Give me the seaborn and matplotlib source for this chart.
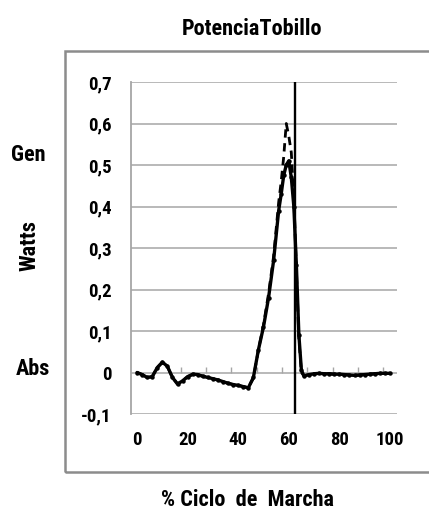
import matplotlib
matplotlib.use("Agg")
import matplotlib.pyplot as plt
import seaborn as sns
import pandas as pd
from matplotlib.patches import Rectangle
from matplotlib import font_manager

# % gait cycle and ankle power (W) for the two traces
ciclo = [0, 2, 4, 6, 8, 10, 12, 14, 16, 18, 20, 22, 24, 26, 28, 30, 32, 34, 36, 38,
         40, 42, 44, 46, 48, 50, 52, 54, 56, 57, 58, 59, 60, 61, 62, 63, 64, 65, 66,
         68, 70, 72, 74, 76, 78, 80, 82, 84, 86, 88, 90, 92, 94, 96, 98, 100]
potencia_a = [0, -0.005, -0.012, -0.01, 0.012, 0.025, 0.015, -0.012, -0.028, -0.02,
              -0.01, -0.004, -0.005, -0.009, -0.012, -0.015, -0.018, -0.022, -0.026, -0.029,
              -0.031, -0.034, -0.037, -0.012, 0.055, 0.11, 0.18, 0.27, 0.39,
              0.43, 0.475, 0.5, 0.51, 0.47, 0.4, 0.26, 0.09, 0.005, -0.008,
              -0.005, -0.003, -0.002, -0.003, -0.003, -0.004, -0.004, -0.005, -0.006,
              -0.007, -0.006, -0.005, -0.004, -0.003, -0.002, -0.002, -0.002]
potencia_b = [0, -0.005, -0.012, -0.01, 0.012, 0.024, 0.014, -0.012, -0.027, -0.02,
              -0.01, -0.005, -0.006, -0.009, -0.012, -0.015, -0.018, -0.022, -0.026, -0.029,
              -0.031, -0.034, -0.036, -0.014, 0.055, 0.115, 0.19, 0.28, 0.41,
              0.46, 0.52, 0.6, 0.57, 0.53, 0.42, 0.25, 0.08, 0.0, -0.008,
              -0.005, -0.003, -0.002, -0.003, -0.003, -0.004, -0.004, -0.005, -0.006,
              -0.007, -0.006, -0.005, -0.004, -0.003, -0.002, -0.002, -0.002]
despegue = 62.3
y_ticks = [-0.1, 0, 0.1, 0.2, 0.3, 0.4, 0.5, 0.6, 0.7]
y_labels = ["-0,1", "0", "0,1", "0,2", "0,3", "0,4", "0,5", "0,6", "0,7"]
x_ticks = [0, 20, 40, 60, 80, 100]
marcas_cero = [7.3, 17.3, 27.3, 37.3, 47.3, 57.3, 67.3, 77.3, 87.3, 97.3]

sns.set_style("white")
names = {f.name for f in font_manager.fontManager.ttflist}
narrow = [n for n in ['DejaVu Sans Condensed', 'Liberation Sans Narrow', 'Roboto Condensed']
          if n in names]
plt.rcParams['font.family'] = narrow + ['DejaVu Sans']
plt.rcParams['font.stretch'] = 'condensed'
plt.rcParams['font.weight'] = 'bold'
plt.rcParams['text.color'] = 'black'
plt.rcParams['xtick.labelcolor'] = 'black'
plt.rcParams['ytick.labelcolor'] = 'black'

df = pd.DataFrame({'ciclo': ciclo, 'a': potencia_a, 'b': potencia_b})

fig = plt.figure(figsize=(4.29, 5.12), dpi=100)
ax = fig.add_axes([131 / 429, 1 - 414 / 512, 266 / 429, 332 / 512])

grid = '#a6a6a6'
for y in y_ticks:
    ax.axhline(y, color=grid, lw=1.1, zorder=0)
# small category ticks standing on the zero line
ax.vlines(marcas_cero, 0, 0.014, color=grid, lw=1, zorder=0)

sns.lineplot(data=df, x='ciclo', y='b', ax=ax, color='black', lw=2.0,
             linestyle=(0, (3, 2)))
sns.lineplot(data=df, x='ciclo', y='a', ax=ax, color='black', lw=2.4,
             marker='o', markersize=3.2, markeredgewidth=0)
ax.axvline(despegue, color='black', lw=1.7)

ax.set_xlim(-2.4, 102.8)
ax.set_ylim(-0.1, 0.7)
ax.set_xticks(x_ticks)
ax.set_xticklabels([str(v) for v in x_ticks])
ax.set_yticks(y_ticks)
ax.set_yticklabels(y_labels)
ax.tick_params(axis='x', length=0, pad=12, labelsize=13.5)
ax.tick_params(axis='y', length=5, width=1, color=grid, pad=9, labelsize=13.5)
ax.set_xlabel('')
ax.set_ylabel('')
for s in ['top', 'right', 'bottom']:
    ax.spines[s].set_visible(False)
ax.spines['left'].set_color(grid)
ax.spines['left'].set_linewidth(1.3)

fig.patches.append(Rectangle((65 / 429, 1 - 472 / 512), 400 / 429, 421 / 512,
                             transform=fig.transFigure, fill=False,
                             edgecolor='#8c8c8c', lw=1.8))

fig.text(252 / 429, 1 - 29 / 512, 'PotenciaTobillo', ha='center', va='center', fontsize=16)
fig.text(248 / 429, 1 - 500 / 512, '% Ciclo  de  Marcha', ha='center', va='center', fontsize=16)
fig.text(28 / 429, 1 - 155 / 512, 'Gen', ha='center', va='center', fontsize=16)
fig.text(33 / 429, 1 - 369 / 512, 'Abs', ha='center', va='center', fontsize=16)
fig.text(30 / 429, 1 - 246 / 512, 'Watts', ha='center', va='center', fontsize=16, rotation=90)

fig.savefig('out.png', dpi=100)
